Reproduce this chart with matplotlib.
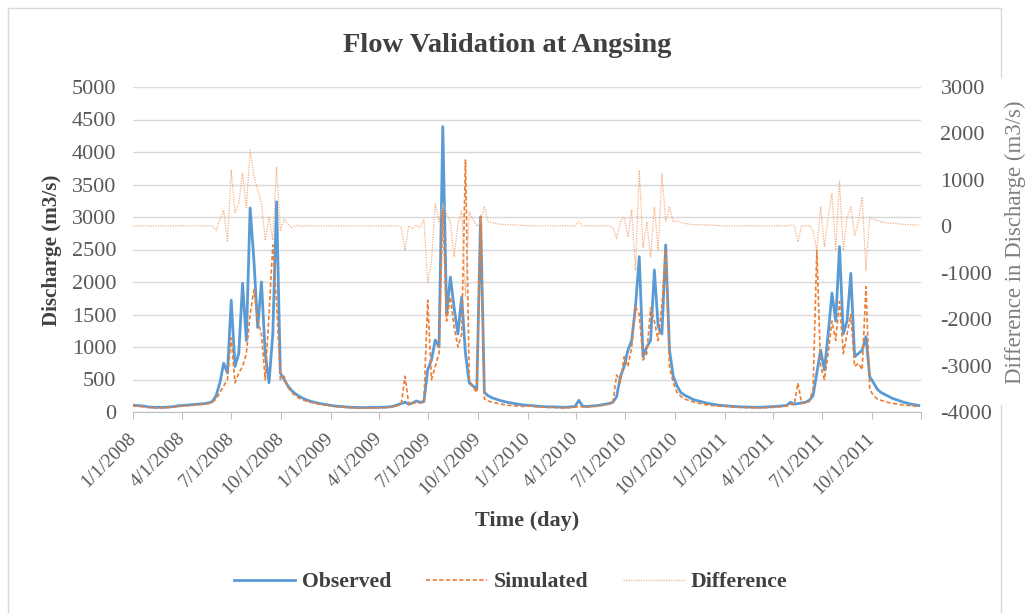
import matplotlib
matplotlib.use("Agg")
import matplotlib.pyplot as plt
import pandas as pd
from matplotlib.lines import Line2D

# weekly readings, 2008-01-01 onwards
obs_2008 = [105, 100, 95, 90,
            80, 75, 70, 72, 70,
            75, 80, 85, 95,
            100, 105, 110, 115, 120,
            125, 130, 140, 160,
            250, 450, 750, 600, 1720, 700, 900, 1980,
            1100, 3140, 2340, 1300, 2000, 900, 450, 1200, 3235, 600,
            500, 400, 330, 280, 240, 210, 185, 165, 150, 135, 125, 115]
sim_2008 = [95, 90, 85, 80,
            70, 65, 62, 65, 62,
            68, 72, 78, 85,
            90, 95, 100, 105, 110,
            115, 120, 130, 150,
            200, 300, 400, 500, 1140, 450, 600, 700,
            900, 1500, 1880, 1400, 1200, 500, 1500, 2570, 1700, 500,
            550, 380, 300, 250, 210, 185, 165, 150, 135, 125, 115, 105]
diff_2008 = [10, 0, 15, 5, 10, -5, 10, 5, 10, 0, 5, 10, 10, 15, 5, 10, 10, 15, 10, 5, 10, 10,
             -90, 150, 345, -340, 1206, 300, 500, 1140,
             400, 1637, 1100, 775, 500, -300, 200, -300, 1280, -100,
             150, 50, -30, 20, 10, 0, 15, 10, 5, 10, 0, 5]

obs_2009 = [105, 95, 90, 85,
            80, 75, 72, 70, 70,
            68, 68, 70, 70, 72,
            75, 75, 80, 90, 110,
            130, 150, 120, 140, 170, 150, 160,
            650, 800, 1108, 1000, 4390, 1500, 2077, 1600, 1200, 1770, 900, 446,
            400, 350, 3005, 300,
            250, 220, 200, 180, 165, 150, 140, 130, 120, 110]
sim_2009 = [95, 88, 82, 78,
            72, 68, 65, 62, 62,
            60, 60, 62, 62, 65,
            68, 68, 72, 80, 100,
            120, 550, 110, 130, 150, 140, 150,
            1720, 500, 700, 900, 3100, 1400, 1770, 1300, 1000, 1200, 3877, 500,
            380, 300, 3000, 200,
            170, 150, 140, 125, 115, 105, 100, 95, 90, 85]
diff_2009 = [10, 5, 10, 5, 10, 5, 5, 10, 5, 10, 5, 10, 5, 5, 10, 5, 10, 10, 10,
             -20, -517, 10, -50, 20, -30, 150,
             -1230, -770, 495, 100, 495, 280, 100, -660, 50, 345, -1520, 300,
             150, 0, 100, 415,
             100, 80, 60, 50, 40, 40, 30, 30, 25, 20]

obs_2010 = [105, 100, 95, 90, 85, 82, 80, 80, 78, 75, 72, 75, 80, 85,
            180, 90, 85, 90, 95, 100, 110, 120, 130, 150,
            236, 543, 700, 954, 1100, 1620, 2390, 851, 1000, 1100, 2185, 1312, 1200, 2570, 954,
            550, 400, 300, 260, 230, 200, 180, 165, 150, 135, 125, 115, 105]
sim_2010 = [95, 90, 85, 80, 75, 72, 70, 70, 68, 65, 62, 65, 70, 75,
            85, 80, 75, 80, 85, 90, 100, 110, 120, 140,
            570, 450, 850, 700, 1000, 1620, 1500, 800, 900, 1600, 1400, 1100, 1650, 2500, 700,
            450, 300, 240, 200, 180, 160, 145, 130, 120, 110, 100, 95, 90]
diff_2010 = [10, 15, 10, 5, 10, 10, 15, 10, 5, 10, 15, 10, 5, 10,
             95, 10, 15, 10, 5, 10, 15, 10, 10, -30,
             -260, 100, 200, -230, 345, -950, 1206, -450, 100, -660, 415, -517, 1135, 100, 415,
             100, 120, 80, 60, 50, 40, 30, 35, 30, 25, 25, 20, 15]

obs_2011 = [100, 95, 90, 85, 82, 80, 78, 75, 75, 72, 72, 75, 78, 80, 85, 90, 95,
            100, 150, 120, 130, 140, 150, 180, 250,
            600, 954, 646, 1200, 1830, 1400, 2544, 1200, 1400, 2133, 851, 900, 950, 1160, 543, 450, 350,
            300, 270, 240, 210, 190, 170, 150, 135, 120, 110, 100]
sim_2011 = [90, 85, 80, 75, 72, 70, 68, 66, 66, 64, 64, 66, 68, 70, 75, 80, 85,
            90, 120, 110, 446, 130, 140, 160, 350,
            2492, 700, 500, 900, 1400, 1100, 1700, 900, 1200, 1500, 700, 750, 650, 1928, 350, 250, 200,
            180, 160, 145, 135, 125, 115, 108, 100, 95, 90, 85]
diff_2011 = [10, 10, 5, 10, 10, 5, 10, 15, 10, 5, 10, 10, 5, 10, 10, 15, 10,
             10, 30, 10, -338, 10, 10, 20, -100,
             -517, 415, -445, 200, 700, -517, 990, -517, 200, 415, -200, 100, 630, -950, 200, 150, 120,
             100, 80, 70, 60, 60, 50, 40, 40, 30, 30, 30]

observed = obs_2008 + obs_2009 + obs_2010 + obs_2011
simulated = sim_2008 + sim_2009 + sim_2010 + sim_2011
difference = diff_2008 + diff_2009 + diff_2010 + diff_2011
dates = pd.date_range("2008-01-01", periods=len(observed), freq="7D")

tick_dates = pd.date_range("2008-01-01", "2011-10-01", freq="QS")
tick_labels = [f"{d.month}/{d.day}/{d.year}" for d in tick_dates]

SERIF = ["Liberation Serif", "DejaVu Serif"]
plt.rcParams["font.family"] = SERIF
plt.rcParams["axes.unicode_minus"] = False
GRAY = "#595959"
BLUE = "#5B9BD5"
ORANGE = "#ED7D31"
LIGHT = "#F4B183"

W, H = 1029, 613
fig = plt.figure(figsize=(W / 100, H / 100), dpi=100)
ax = fig.add_axes([133 / W, 1 - 412 / H, (921 - 133) / W, (412 - 87) / H])
ax2 = ax.twinx()

l1, = ax.plot(dates, observed, color=BLUE, lw=2.0, label="Observed", zorder=2)
l2, = ax.plot(dates, simulated, color=ORANGE, lw=1.2, dashes=(2.5, 1.5),
              label="Simulated", zorder=3)
l3, = ax2.plot(dates, difference, color=LIGHT, lw=0.9, dashes=(1, 1),
               label="Difference")

ax.set_xlim(pd.Timestamp("2008-01-01"), pd.Timestamp("2011-12-31"))
ax.set_ylim(0, 5000)
ax.set_yticks(range(0, 5001, 500))
ax2.set_ylim(-4000, 3000)
ax2.set_yticks(range(-4000, 3001, 1000))

ax.grid(axis="y", color="#D9D9D9", lw=1)
ax.set_axisbelow(True)
for a in (ax, ax2):
    for s in ("top", "left", "right"):
        a.spines[s].set_visible(False)
ax.spines["bottom"].set_color("#BFBFBF")
ax2.spines["bottom"].set_visible(False)

ax.set_xticks(list(tick_dates) + [pd.Timestamp("2011-12-31")])
ax.set_xticklabels(tick_labels + [""])
ax.tick_params(axis="x", direction="out", length=5, color="#BFBFBF",
               labelsize=14, labelcolor=GRAY, pad=12)
for t in ax.get_xticklabels():
    t.set_rotation(45)
    t.set_ha("right")
    t.set_va("center")
    t.set_rotation_mode("anchor")
ax.tick_params(axis="y", length=0, labelsize=16, labelcolor=GRAY, pad=12)
ax2.tick_params(axis="y", length=0, labelsize=16, labelcolor=GRAY, pad=14)

fig.text(507 / W, 1 - 45 / H, "Flow Validation at Angsing", ha="center", va="center",
         fontsize=20.5, fontweight="bold", color="#404040")
fig.text(52 / W, 1 - 250 / H, "Discharge (m3/s)", rotation=90, ha="center", va="center",
         fontsize=15.2, fontweight="bold", color="#404040")
fig.text(527 / W, 1 - 521 / H, "Time (day)", ha="center", va="center",
         fontsize=16, fontweight="bold", color="#404040")
fig.text(1015 / W, 1 - 242 / H, "Difference in Discharge (m3/s)", rotation=90,
         ha="center", va="center", fontsize=16.4, color="#7F7F7F")

fig.legend(handles=[l1, l2, l3], loc="center", bbox_to_anchor=(511 / W, 1 - 582 / H),
           ncol=3, frameon=False, handlelength=2.8, handletextpad=0.3,
           columnspacing=1.6, prop={"family": SERIF, "weight": "bold", "size": 15.7},
           labelcolor="#404040")

# chart-area border, broken on the right by the secondary axis title
border = dict(transform=fig.transFigure, color="#D9D9D9", lw=1)
fig.add_artist(Line2D([8 / W, 8 / W], [0, 1 - 8 / H], **border))
fig.add_artist(Line2D([8 / W, 1001 / W], [1 - 8 / H, 1 - 8 / H], **border))
fig.add_artist(Line2D([1001 / W, 1001 / W], [1 - 8 / H, 1 - 77 / H], **border))
fig.add_artist(Line2D([1001 / W, 1001 / W], [1 - 405 / H, 0], **border))

fig.savefig("out.png", dpi=100)
